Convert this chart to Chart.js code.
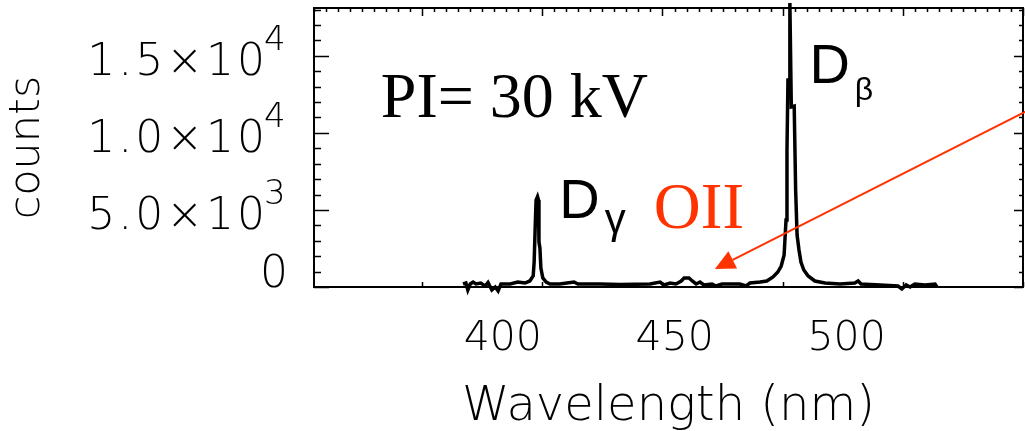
<!DOCTYPE html>
<html>
<head>
<meta charset="utf-8">
<script src="https://cdn.jsdelivr.net/npm/chart.js@4"></script>
<style>
html,body{margin:0;padding:0;background:#fff;}
#wrap{width:1025px;height:431px;position:relative;}
</style>
</head>
<body>
<div id="wrap"><canvas id="c"></canvas></div>
<script>
// ---- data ----
const wavelengths = [418.5, 419.1, 419.5, 420.0, 420.6, 421.2, 422.2, 423.1, 423.7, 424.5,
  425.2, 425.8, 426.4, 428.3, 429.9, 431.4, 432.4, 433.1, 433.3, 433.5,
  433.7, 434.0, 434.2, 434.3, 434.5, 434.7, 435.1, 435.8, 436.6, 438.6,
  441.6, 442.4, 447.0, 451.2, 457.4, 459.5, 460.3, 461.6, 462.8, 463.9,
  464.5, 465.5, 466.2, 467.0, 467.8, 468.6, 470.3, 471.1, 472.4, 476.1,
  477.4, 478.2, 480.3, 481.7, 483.0, 484.0, 484.7, 485.3, 485.7, 485.9,
  486.1, 486.4, 486.5, 486.8, 487.4, 487.7, 488.0, 488.4, 488.8, 489.4,
  490.3, 491.7, 493.8, 496.9, 500.0, 500.7, 501.3, 505.3, 509.0, 509.8,
  510.7, 511.5, 512.5, 514.6, 516.7, 517.1];
const counts = [195, 260, -195, 195, 324, 195, 260, 65, 292, -195,
  0, -260, 195, 195, 324, 260, 390, 714, 1622, 3698,
  5644, 5870, 5644, 2920, 2530, 1233, 584, 324, 195, 195,
  324, 195, 195, 162, 195, 324, 130, 260, 195, 390,
  584, 584, 390, 195, 324, 130, 195, 65, 195, 195,
  65, 260, 324, 390, 649, 973, 1362, 2076, 4347, 8888,
  13430, 13430, 18420, 11680, 11740, 6290, 3370, 2400, 1622, 1103,
  714, 390, 260, 195, 260, 390, 195, 130, 65, -130,
  130, 0, 195, 130, 195, 0];

// axis ticks / labels
const xTickLabels = [400, 450, 500];
const xFrameMajor = [410, 435, 460, 485, 510, 535];
const xFrameMinorStep = 2.5;
const yTickValues = [0, 5000, 10000, 15000];
const yTickMantissas = ['0', '5.0', '1.0', '1.5'];
const yTickExponents = ['', '3', '4', '4'];
const yFrameMinorStep = 1000;

// annotations (data coordinates)
const annPI = {text: 'PI= 30 kV', x: 401.4, y: 11030};
const annDbeta = {main: 'D', sub: 'β', x: 490.6, y: 13230, subX: 500.0, subY: 12110};
const annDgamma = {main: 'D', sub: 'γ', x: 438.5, y: 4480, subX: 448.0, subY: 3520};
const annOII = {text: 'OII', x: 458.2, y: 3830};
const annArrow = {fromX: 536, fromY: 11450, toX: 470.9, toY: 1170};

const points = wavelengths.map((w, i) => ({x: w, y: counts[i]}));
const idlFont = '"DejaVu Sans"';

const framePlugin = {
  id: 'frame',
  beforeDatasetsDraw(chart) {
    const ctx = chart.ctx;
    const {left, right, top, bottom} = chart.chartArea;
    const xs = chart.scales.x, ys = chart.scales.y;
    ctx.save();
    ctx.strokeStyle = '#000';
    ctx.lineWidth = 2;
    ctx.strokeRect(left, top, right - left, bottom - top);
    ctx.beginPath();
    for (let v = xs.min; v <= xs.max + 1e-6; v += xFrameMinorStep) {
      const px = Math.round(xs.getPixelForValue(v)) + 0.5;
      const major = xFrameMajor.some(m => Math.abs(m - v) < 1e-6);
      ctx.moveTo(px, top);
      ctx.lineTo(px, top + (major ? 8 : 4));
    }
    xFrameMajor.forEach(v => {
      const px = Math.round(xs.getPixelForValue(v)) + 0.5;
      ctx.moveTo(px, bottom);
      ctx.lineTo(px, bottom - 5);
    });
    for (let v = 0; v <= ys.max; v += yFrameMinorStep) {
      const py = Math.round(ys.getPixelForValue(v)) + 0.5;
      const major = yTickValues.includes(v);
      ctx.moveTo(left, py);
      ctx.lineTo(left + (major ? 15 : 7), py);
      ctx.moveTo(right, py);
      ctx.lineTo(right - (major ? 9 : 4), py);
    }
    ctx.lineWidth = 1.5;
    ctx.stroke();
    ctx.restore();
  },
  afterDatasetsDraw(chart) {
    const ctx = chart.ctx;
    const xs = chart.scales.x, ys = chart.scales.y;
    const X = v => xs.getPixelForValue(v), Y = v => ys.getPixelForValue(v);
    const left = chart.chartArea.left;
    ctx.save();
    ctx.textBaseline = 'alphabetic';
    ctx.fillStyle = '#000';
    yTickValues.forEach((v, i) => {
      const py = ys.getPixelForValue(v);
      ctx.letterSpacing = '3px';
      if (yTickExponents[i]) {
        ctx.font = '200 44px ' + idlFont;
        ctx.textAlign = 'right';
        ctx.fillText(yTickMantissas[i] + '×10', left - 46, py + 19);
        ctx.letterSpacing = '0px';
        ctx.font = '200 34px ' + idlFont;
        ctx.textAlign = 'left';
        ctx.fillText(yTickExponents[i], left - 50, py + 19 - 25);
      } else {
        ctx.letterSpacing = '0px';
        ctx.font = '200 44px ' + idlFont;
        ctx.textAlign = 'right';
        ctx.fillText(yTickMantissas[i], left - 26, py);
      }
    });
    ctx.letterSpacing = '0px';
    ctx.textAlign = 'left';
    ctx.font = '64px "Liberation Serif"';
    ctx.fillText(annPI.text, X(annPI.x), Y(annPI.y));
    ctx.font = '56px "Liberation Sans"';
    ctx.fillText(annDbeta.main, X(annDbeta.x), Y(annDbeta.y));
    ctx.font = '32px "Liberation Sans"';
    ctx.fillText(annDbeta.sub, X(annDbeta.subX), Y(annDbeta.subY));
    ctx.font = '56px "Liberation Sans"';
    ctx.fillText(annDgamma.main, X(annDgamma.x), Y(annDgamma.y));
    ctx.font = '42px "Liberation Sans"';
    ctx.fillText(annDgamma.sub, X(annDgamma.subX), Y(annDgamma.subY));
    ctx.fillStyle = '#FF3300';
    ctx.font = '65px "Liberation Serif"';
    ctx.fillText(annOII.text, X(annOII.x), Y(annOII.y));
    const x0 = X(annArrow.fromX), y0 = Y(annArrow.fromY);
    const x1 = X(annArrow.toX), y1 = Y(annArrow.toY);
    const dx = x1 - x0, dy = y1 - y0, len = Math.hypot(dx, dy);
    const ux = dx / len, uy = dy / len;
    const headLen = 20, headHalf = 9.6;
    const bx = x1 - ux * headLen, by = y1 - uy * headLen;
    ctx.strokeStyle = '#FF3300';
    ctx.lineWidth = 2;
    ctx.beginPath();
    ctx.moveTo(x0, y0);
    ctx.lineTo(bx, by);
    ctx.stroke();
    ctx.beginPath();
    ctx.moveTo(x1, y1);
    ctx.lineTo(bx - uy * headHalf, by + ux * headHalf);
    ctx.lineTo(bx + uy * headHalf, by - ux * headHalf);
    ctx.closePath();
    ctx.fill();
    ctx.restore();
  }
};

new Chart(document.getElementById('c'), {
  type: 'line',
  data: {
    datasets: [{
      data: points,
      xAxisID: 'x',
      yAxisID: 'y',
      borderColor: '#000',
      borderWidth: 3.5,
      pointRadius: 0,
      tension: 0,
      fill: false,
      clip: false
    }]
  },
  options: {
    responsive: true,
    maintainAspectRatio: false,
    animation: false,
    events: [],
    layout: {padding: {top: 8, right: 2, left: 0, bottom: 0}},
    plugins: {legend: {display: false}, tooltip: {enabled: false}, title: {display: false}},
    scales: {
      x: {type: 'linear', display: false, min: 387.5, max: 535},
      xl: {
        type: 'linear', position: 'bottom', min: 345.1, max: 551.3,
        afterBuildTicks(s) { s.ticks = xTickLabels.map(v => ({value: v})); },
        ticks: {
          font: {family: 'DejaVu Sans', size: 41, weight: 200},
          color: '#000', padding: 20, maxRotation: 0, autoSkip: false,
          callback: v => String(v)
        },
        grid: {display: false},
        border: {display: false},
        title: {
          display: true, text: 'Wavelength (nm)', color: '#000',
          font: {family: 'DejaVu Sans', size: 48, lineHeight: 0.96, weight: 200},
          padding: 0
        },
        afterFit(s) { s.height = 144; }
      },
      y: {
        type: 'linear', position: 'left', min: 0, max: 18100,
        ticks: {display: false},
        grid: {display: false},
        border: {display: false},
        title: {
          display: true, text: 'counts', color: '#000',
          font: {family: 'DejaVu Sans', size: 43, weight: 200},
          padding: {top: 2, bottom: 0}
        },
        afterFit(s) { s.width = 314; }
      }
    }
  },
  plugins: [framePlugin]
});
</script>
</body>
</html>
